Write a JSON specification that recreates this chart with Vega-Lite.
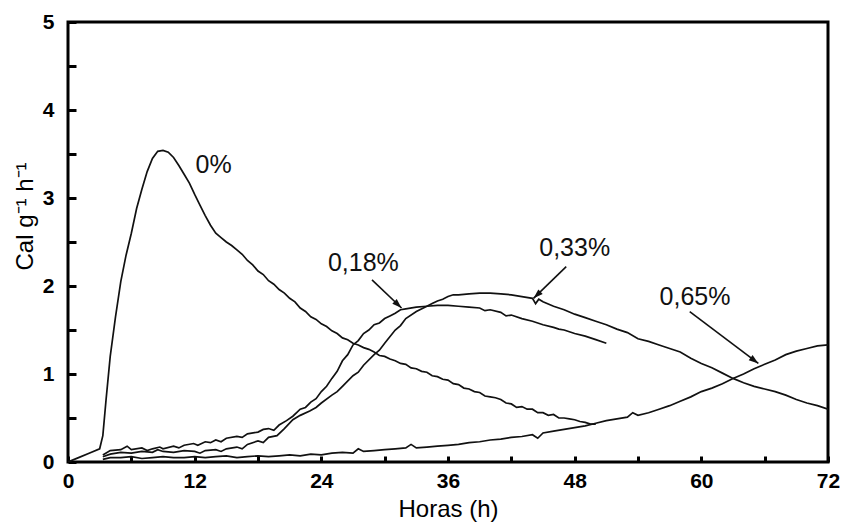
{
  "$schema": "https://vega.github.io/schema/vega-lite/v6.json",
  "width": 760,
  "height": 440,
  "autosize": {"type": "none"},
  "padding": {"left": 68, "top": 22, "right": 17, "bottom": 65},
  "background": "white",
  "config": {
    "view": {"stroke": "black", "strokeWidth": 3},
    "font": "Liberation Sans"
  },
  "datasets": {
    "curves": [
      {"s":"0%","h":0,"v":0},{"s":"0%","h":1,"v":0.05},{"s":"0%","h":2,"v":0.1},{"s":"0%","h":3,"v":0.15},{"s":"0%","h":3.3,"v":0.3},{"s":"0%","h":3.6,"v":0.7},{"s":"0%","h":4,"v":1.2},{"s":"0%","h":4.5,"v":1.65},{"s":"0%","h":5,"v":2.05},{"s":"0%","h":5.5,"v":2.35},{"s":"0%","h":6,"v":2.6},{"s":"0%","h":6.5,"v":2.88},{"s":"0%","h":7,"v":3.1},{"s":"0%","h":7.5,"v":3.3},{"s":"0%","h":8,"v":3.45},{"s":"0%","h":8.5,"v":3.53},{"s":"0%","h":9,"v":3.54},{"s":"0%","h":9.5,"v":3.52},{"s":"0%","h":10,"v":3.46},{"s":"0%","h":10.5,"v":3.37},{"s":"0%","h":11,"v":3.27},{"s":"0%","h":11.5,"v":3.17},{"s":"0%","h":12,"v":3.04},{"s":"0%","h":12.5,"v":2.92},{"s":"0%","h":13,"v":2.8},{"s":"0%","h":13.5,"v":2.69},{"s":"0%","h":14,"v":2.6},{"s":"0%","h":14.5,"v":2.55},{"s":"0%","h":15,"v":2.5},{"s":"0%","h":15.5,"v":2.46},{"s":"0%","h":16,"v":2.41},{"s":"0%","h":16.5,"v":2.36},{"s":"0%","h":17,"v":2.29},{"s":"0%","h":17.5,"v":2.24},{"s":"0%","h":18,"v":2.17},{"s":"0%","h":18.5,"v":2.13},{"s":"0%","h":19,"v":2.06},{"s":"0%","h":19.5,"v":2.02},{"s":"0%","h":20,"v":1.96},{"s":"0%","h":20.5,"v":1.92},{"s":"0%","h":21,"v":1.86},{"s":"0%","h":21.5,"v":1.82},{"s":"0%","h":22,"v":1.75},{"s":"0%","h":22.5,"v":1.71},{"s":"0%","h":23,"v":1.65},{"s":"0%","h":23.5,"v":1.62},{"s":"0%","h":24,"v":1.57},{"s":"0%","h":24.5,"v":1.54},{"s":"0%","h":25,"v":1.49},{"s":"0%","h":25.5,"v":1.46},{"s":"0%","h":26,"v":1.41},{"s":"0%","h":26.5,"v":1.39},{"s":"0%","h":27,"v":1.35},{"s":"0%","h":27.5,"v":1.33},{"s":"0%","h":28,"v":1.3},{"s":"0%","h":28.5,"v":1.28},{"s":"0%","h":29,"v":1.25},{"s":"0%","h":29.5,"v":1.21},{"s":"0%","h":30,"v":1.2},{"s":"0%","h":30.5,"v":1.17},{"s":"0%","h":31,"v":1.15},{"s":"0%","h":31.5,"v":1.12},{"s":"0%","h":32,"v":1.11},{"s":"0%","h":32.5,"v":1.07},{"s":"0%","h":33,"v":1.06},{"s":"0%","h":33.5,"v":1.03},{"s":"0%","h":34,"v":1.02},{"s":"0%","h":34.5,"v":0.98},{"s":"0%","h":35,"v":0.97},{"s":"0%","h":35.5,"v":0.94},{"s":"0%","h":36,"v":0.93},{"s":"0%","h":36.5,"v":0.89},{"s":"0%","h":37,"v":0.88},{"s":"0%","h":37.5,"v":0.84},{"s":"0%","h":38,"v":0.83},{"s":"0%","h":38.5,"v":0.8},{"s":"0%","h":39,"v":0.79},{"s":"0%","h":39.5,"v":0.75},{"s":"0%","h":40,"v":0.74},{"s":"0%","h":40.5,"v":0.73},{"s":"0%","h":41,"v":0.71},{"s":"0%","h":41.5,"v":0.67},{"s":"0%","h":42,"v":0.66},{"s":"0%","h":42.5,"v":0.62},{"s":"0%","h":43,"v":0.63},{"s":"0%","h":43.5,"v":0.6},{"s":"0%","h":44,"v":0.6},{"s":"0%","h":44.5,"v":0.56},{"s":"0%","h":45,"v":0.56},{"s":"0%","h":45.5,"v":0.53},{"s":"0%","h":46,"v":0.54},{"s":"0%","h":46.5,"v":0.5},{"s":"0%","h":47,"v":0.5},{"s":"0%","h":47.5,"v":0.49},{"s":"0%","h":48,"v":0.48},{"s":"0%","h":48.5,"v":0.46},{"s":"0%","h":49,"v":0.45},{"s":"0%","h":49.5,"v":0.43},{"s":"0%","h":50,"v":0.43},

      {"s":"0,18%","h":3.3,"v":0.08},{"s":"0,18%","h":4,"v":0.13},{"s":"0,18%","h":5,"v":0.14},{"s":"0,18%","h":5.6,"v":0.18},{"s":"0,18%","h":6,"v":0.14},{"s":"0,18%","h":7,"v":0.16},{"s":"0,18%","h":7.5,"v":0.13},{"s":"0,18%","h":8,"v":0.15},{"s":"0,18%","h":8.7,"v":0.17},{"s":"0,18%","h":9,"v":0.15},{"s":"0,18%","h":10,"v":0.18},{"s":"0,18%","h":10.5,"v":0.16},{"s":"0,18%","h":11,"v":0.19},{"s":"0,18%","h":11.9,"v":0.21},{"s":"0,18%","h":12.3,"v":0.19},{"s":"0,18%","h":13,"v":0.23},{"s":"0,18%","h":13.5,"v":0.22},{"s":"0,18%","h":14,"v":0.25},{"s":"0,18%","h":14.5,"v":0.23},{"s":"0,18%","h":15,"v":0.27},{"s":"0,18%","h":16,"v":0.29},{"s":"0,18%","h":16.5,"v":0.28},{"s":"0,18%","h":17,"v":0.32},{"s":"0,18%","h":18,"v":0.34},{"s":"0,18%","h":18.5,"v":0.37},{"s":"0,18%","h":19,"v":0.38},{"s":"0,18%","h":19.5,"v":0.36},{"s":"0,18%","h":20,"v":0.42},{"s":"0,18%","h":20.7,"v":0.47},{"s":"0,18%","h":21.3,"v":0.52},{"s":"0,18%","h":22,"v":0.6},{"s":"0,18%","h":22.5,"v":0.62},{"s":"0,18%","h":23,"v":0.68},{"s":"0,18%","h":23.5,"v":0.72},{"s":"0,18%","h":24,"v":0.8},{"s":"0,18%","h":24.5,"v":0.86},{"s":"0,18%","h":25,"v":0.95},{"s":"0,18%","h":25.5,"v":1.03},{"s":"0,18%","h":26,"v":1.15},{"s":"0,18%","h":26.5,"v":1.22},{"s":"0,18%","h":27,"v":1.33},{"s":"0,18%","h":27.5,"v":1.38},{"s":"0,18%","h":28,"v":1.46},{"s":"0,18%","h":28.5,"v":1.5},{"s":"0,18%","h":29,"v":1.56},{"s":"0,18%","h":29.5,"v":1.58},{"s":"0,18%","h":30,"v":1.63},{"s":"0,18%","h":30.5,"v":1.66},{"s":"0,18%","h":31,"v":1.69},{"s":"0,18%","h":31.5,"v":1.73},{"s":"0,18%","h":32,"v":1.74},{"s":"0,18%","h":33,"v":1.76},{"s":"0,18%","h":34,"v":1.77},{"s":"0,18%","h":35,"v":1.78},{"s":"0,18%","h":36,"v":1.78},{"s":"0,18%","h":37,"v":1.77},{"s":"0,18%","h":38,"v":1.76},{"s":"0,18%","h":39,"v":1.75},{"s":"0,18%","h":39.5,"v":1.72},{"s":"0,18%","h":40,"v":1.73},{"s":"0,18%","h":41,"v":1.7},{"s":"0,18%","h":41.5,"v":1.66},{"s":"0,18%","h":42,"v":1.67},{"s":"0,18%","h":43,"v":1.63},{"s":"0,18%","h":44,"v":1.6},{"s":"0,18%","h":45,"v":1.56},{"s":"0,18%","h":46,"v":1.53},{"s":"0,18%","h":46.5,"v":1.51},{"s":"0,18%","h":47,"v":1.5},{"s":"0,18%","h":48,"v":1.46},{"s":"0,18%","h":49,"v":1.43},{"s":"0,18%","h":50,"v":1.39},{"s":"0,18%","h":51,"v":1.35},

      {"s":"0,33%","h":3.3,"v":0.06},{"s":"0,33%","h":4,"v":0.09},{"s":"0,33%","h":5,"v":0.11},{"s":"0,33%","h":6,"v":0.1},{"s":"0,33%","h":7,"v":0.12},{"s":"0,33%","h":8,"v":0.11},{"s":"0,33%","h":8.5,"v":0.14},{"s":"0,33%","h":9,"v":0.12},{"s":"0,33%","h":10,"v":0.11},{"s":"0,33%","h":11,"v":0.13},{"s":"0,33%","h":12,"v":0.12},{"s":"0,33%","h":12.5,"v":0.1},{"s":"0,33%","h":13,"v":0.13},{"s":"0,33%","h":14,"v":0.14},{"s":"0,33%","h":14.5,"v":0.12},{"s":"0,33%","h":15,"v":0.15},{"s":"0,33%","h":16,"v":0.17},{"s":"0,33%","h":16.5,"v":0.15},{"s":"0,33%","h":17,"v":0.2},{"s":"0,33%","h":18,"v":0.24},{"s":"0,33%","h":18.5,"v":0.22},{"s":"0,33%","h":19,"v":0.28},{"s":"0,33%","h":19.8,"v":0.3},{"s":"0,33%","h":20.5,"v":0.38},{"s":"0,33%","h":21.3,"v":0.48},{"s":"0,33%","h":22,"v":0.53},{"s":"0,33%","h":22.9,"v":0.58},{"s":"0,33%","h":23.5,"v":0.62},{"s":"0,33%","h":24,"v":0.67},{"s":"0,33%","h":25,"v":0.76},{"s":"0,33%","h":25.5,"v":0.8},{"s":"0,33%","h":26,"v":0.86},{"s":"0,33%","h":27,"v":0.98},{"s":"0,33%","h":27.5,"v":1.02},{"s":"0,33%","h":28,"v":1.1},{"s":"0,33%","h":29,"v":1.22},{"s":"0,33%","h":29.5,"v":1.27},{"s":"0,33%","h":30,"v":1.35},{"s":"0,33%","h":31,"v":1.5},{"s":"0,33%","h":31.5,"v":1.55},{"s":"0,33%","h":32,"v":1.63},{"s":"0,33%","h":33,"v":1.71},{"s":"0,33%","h":34,"v":1.77},{"s":"0,33%","h":34.5,"v":1.8},{"s":"0,33%","h":35,"v":1.83},{"s":"0,33%","h":35.5,"v":1.85},{"s":"0,33%","h":36,"v":1.88},{"s":"0,33%","h":36.5,"v":1.9},{"s":"0,33%","h":37,"v":1.9},{"s":"0,33%","h":38,"v":1.91},{"s":"0,33%","h":39,"v":1.92},{"s":"0,33%","h":40,"v":1.92},{"s":"0,33%","h":41,"v":1.91},{"s":"0,33%","h":42,"v":1.9},{"s":"0,33%","h":43,"v":1.88},{"s":"0,33%","h":44,"v":1.86},{"s":"0,33%","h":44.3,"v":1.8},{"s":"0,33%","h":44.6,"v":1.85},{"s":"0,33%","h":45,"v":1.82},{"s":"0,33%","h":46,"v":1.77},{"s":"0,33%","h":47,"v":1.73},{"s":"0,33%","h":48,"v":1.68},{"s":"0,33%","h":49,"v":1.64},{"s":"0,33%","h":50,"v":1.6},{"s":"0,33%","h":51,"v":1.56},{"s":"0,33%","h":52,"v":1.51},{"s":"0,33%","h":53,"v":1.47},{"s":"0,33%","h":54,"v":1.4},{"s":"0,33%","h":55,"v":1.37},{"s":"0,33%","h":56,"v":1.33},{"s":"0,33%","h":57,"v":1.29},{"s":"0,33%","h":58,"v":1.25},{"s":"0,33%","h":59,"v":1.18},{"s":"0,33%","h":60,"v":1.12},{"s":"0,33%","h":61,"v":1.07},{"s":"0,33%","h":62,"v":1.01},{"s":"0,33%","h":63,"v":0.95},{"s":"0,33%","h":64,"v":0.9},{"s":"0,33%","h":65,"v":0.86},{"s":"0,33%","h":66,"v":0.83},{"s":"0,33%","h":67,"v":0.8},{"s":"0,33%","h":68,"v":0.76},{"s":"0,33%","h":69,"v":0.71},{"s":"0,33%","h":70,"v":0.67},{"s":"0,33%","h":71,"v":0.64},{"s":"0,33%","h":72,"v":0.6},

      {"s":"0,65%","h":3.3,"v":0.03},{"s":"0,65%","h":4,"v":0.05},{"s":"0,65%","h":5,"v":0.05},{"s":"0,65%","h":6,"v":0.06},{"s":"0,65%","h":7,"v":0.04},{"s":"0,65%","h":8,"v":0.05},{"s":"0,65%","h":9,"v":0.06},{"s":"0,65%","h":10,"v":0.05},{"s":"0,65%","h":11,"v":0.05},{"s":"0,65%","h":12,"v":0.06},{"s":"0,65%","h":13,"v":0.05},{"s":"0,65%","h":14,"v":0.06},{"s":"0,65%","h":15,"v":0.07},{"s":"0,65%","h":16,"v":0.05},{"s":"0,65%","h":17,"v":0.06},{"s":"0,65%","h":18,"v":0.07},{"s":"0,65%","h":19,"v":0.06},{"s":"0,65%","h":20,"v":0.07},{"s":"0,65%","h":21,"v":0.08},{"s":"0,65%","h":22,"v":0.07},{"s":"0,65%","h":23,"v":0.09},{"s":"0,65%","h":24,"v":0.08},{"s":"0,65%","h":25,"v":0.1},{"s":"0,65%","h":26,"v":0.11},{"s":"0,65%","h":27,"v":0.1},{"s":"0,65%","h":27.5,"v":0.15},{"s":"0,65%","h":28,"v":0.12},{"s":"0,65%","h":29,"v":0.13},{"s":"0,65%","h":30,"v":0.14},{"s":"0,65%","h":31,"v":0.15},{"s":"0,65%","h":32,"v":0.16},{"s":"0,65%","h":32.5,"v":0.2},{"s":"0,65%","h":33,"v":0.16},{"s":"0,65%","h":34,"v":0.17},{"s":"0,65%","h":35,"v":0.18},{"s":"0,65%","h":36,"v":0.19},{"s":"0,65%","h":37,"v":0.2},{"s":"0,65%","h":38,"v":0.22},{"s":"0,65%","h":39,"v":0.23},{"s":"0,65%","h":40,"v":0.25},{"s":"0,65%","h":41,"v":0.26},{"s":"0,65%","h":42,"v":0.28},{"s":"0,65%","h":43,"v":0.29},{"s":"0,65%","h":44,"v":0.31},{"s":"0,65%","h":44.5,"v":0.27},{"s":"0,65%","h":45,"v":0.33},{"s":"0,65%","h":46,"v":0.35},{"s":"0,65%","h":47,"v":0.37},{"s":"0,65%","h":48,"v":0.39},{"s":"0,65%","h":49,"v":0.41},{"s":"0,65%","h":50,"v":0.44},{"s":"0,65%","h":51,"v":0.47},{"s":"0,65%","h":52,"v":0.49},{"s":"0,65%","h":53,"v":0.51},{"s":"0,65%","h":53.5,"v":0.56},{"s":"0,65%","h":54,"v":0.53},{"s":"0,65%","h":55,"v":0.56},{"s":"0,65%","h":56,"v":0.6},{"s":"0,65%","h":57,"v":0.64},{"s":"0,65%","h":58,"v":0.69},{"s":"0,65%","h":59,"v":0.74},{"s":"0,65%","h":60,"v":0.8},{"s":"0,65%","h":61,"v":0.84},{"s":"0,65%","h":62,"v":0.89},{"s":"0,65%","h":63,"v":0.95},{"s":"0,65%","h":64,"v":1.0},{"s":"0,65%","h":65,"v":1.06},{"s":"0,65%","h":66,"v":1.11},{"s":"0,65%","h":67,"v":1.16},{"s":"0,65%","h":68,"v":1.22},{"s":"0,65%","h":69,"v":1.26},{"s":"0,65%","h":70,"v":1.29},{"s":"0,65%","h":71,"v":1.32},{"s":"0,65%","h":72,"v":1.33}
    ],
    "labels": [
      {"t":"0%","h":13.8,"v":3.375},
      {"t":"0,18%","h":27.98,"v":2.26},
      {"t":"0,33%","h":48.0,"v":2.43},
      {"t":"0,65%","h":59.4,"v":1.88}
    ],
    "arrows": [
      {"t":"0,18%","h":28.8,"v":2.07,"h2":31.6,"v2":1.75},
      {"t":"0,33%","h":47.2,"v":2.22,"h2":44.1,"v2":1.86},
      {"t":"0,65%","h":58.9,"v":1.71,"h2":65.4,"v2":1.12}
    ]
  },
  "layer": [
    {
      "data": {"name": "curves"},
      "mark": {"type": "line", "color": "#111111", "strokeWidth": 1.7, "clip": true},
      "encoding": {
        "x": {
          "field": "h", "type": "quantitative",
          "scale": {"domain": [0, 72], "nice": false},
          "axis": {
            "values": [0,6,12,18,24,30,36,42,48,54,60,66,72],
            "labelExpr": "datum.value % 12 === 0 ? datum.label : ''",
            "tickSize": -6, "tickWidth": 3, "tickColor": "black",
            "domain": false, "grid": false,
            "labelFont": "Liberation Sans", "labelFontSize": 21, "labelFontWeight": "bold", "labelColor": "black",
            "labelPadding": 14, "labelFlush": false,
            "title": "Horas (h)", "titleFont": "Liberation Sans", "titleFontSize": 24, "titleFontWeight": "normal", "titleColor": "black",
            "titlePadding": 6
          }
        },
        "y": {
          "field": "v", "type": "quantitative",
          "scale": {"domain": [0, 5], "nice": false},
          "axis": {
            "values": [0,0.5,1,1.5,2,2.5,3,3.5,4,4.5,5],
            "labelExpr": "datum.value % 1 === 0 ? format(datum.value, 'd') : ''",
            "tickSize": -8, "tickWidth": 3, "tickColor": "black",
            "domain": false, "grid": false,
            "labelFont": "Liberation Sans", "labelFontSize": 21, "labelFontWeight": "bold", "labelColor": "black",
            "labelPadding": 22, "labelFlush": false,
            "title": "Cal g⁻¹ h⁻¹", "titleFont": "Liberation Sans", "titleFontSize": 24, "titleFontWeight": "normal", "titleColor": "black",
            "titleX": -31, "titleY": 194
          }
        },
        "detail": {"field": "s"}
      }
    },
    {
      "data": {"name": "arrows"},
      "mark": {"type": "rule", "color": "#111111", "strokeWidth": 1.6},
      "encoding": {
        "x": {"field": "h", "type": "quantitative"},
        "y": {"field": "v", "type": "quantitative"},
        "x2": {"field": "h2"},
        "y2": {"field": "v2"}
      }
    },
    {
      "data": {"name": "arrows"},
      "transform": [{"filter": "datum.t === '0,18%'"}],
      "mark": {"type": "point", "shape": "M0,0L-0.8,2.4L0.8,2.4Z", "filled": true, "color": "#111111", "size": 64, "opacity": 1, "angle": 133},
      "encoding": {
        "x": {"field": "h2", "type": "quantitative"},
        "y": {"field": "v2", "type": "quantitative"}
      }
    },
    {
      "data": {"name": "arrows"},
      "transform": [{"filter": "datum.t === '0,33%'"}],
      "mark": {"type": "point", "shape": "M0,0L-0.8,2.4L0.8,2.4Z", "filled": true, "color": "#111111", "size": 64, "opacity": 1, "angle": 227},
      "encoding": {
        "x": {"field": "h2", "type": "quantitative"},
        "y": {"field": "v2", "type": "quantitative"}
      }
    },
    {
      "data": {"name": "arrows"},
      "transform": [{"filter": "datum.t === '0,65%'"}],
      "mark": {"type": "point", "shape": "M0,0L-0.8,2.4L0.8,2.4Z", "filled": true, "color": "#111111", "size": 64, "opacity": 1, "angle": 127},
      "encoding": {
        "x": {"field": "h2", "type": "quantitative"},
        "y": {"field": "v2", "type": "quantitative"}
      }
    },
    {
      "data": {"name": "labels"},
      "mark": {"type": "text", "font": "Liberation Sans", "fontSize": 25, "color": "#111111", "align": "center", "baseline": "middle"},
      "encoding": {
        "x": {"field": "h", "type": "quantitative"},
        "y": {"field": "v", "type": "quantitative"},
        "text": {"field": "t"}
      }
    }
  ]
}
